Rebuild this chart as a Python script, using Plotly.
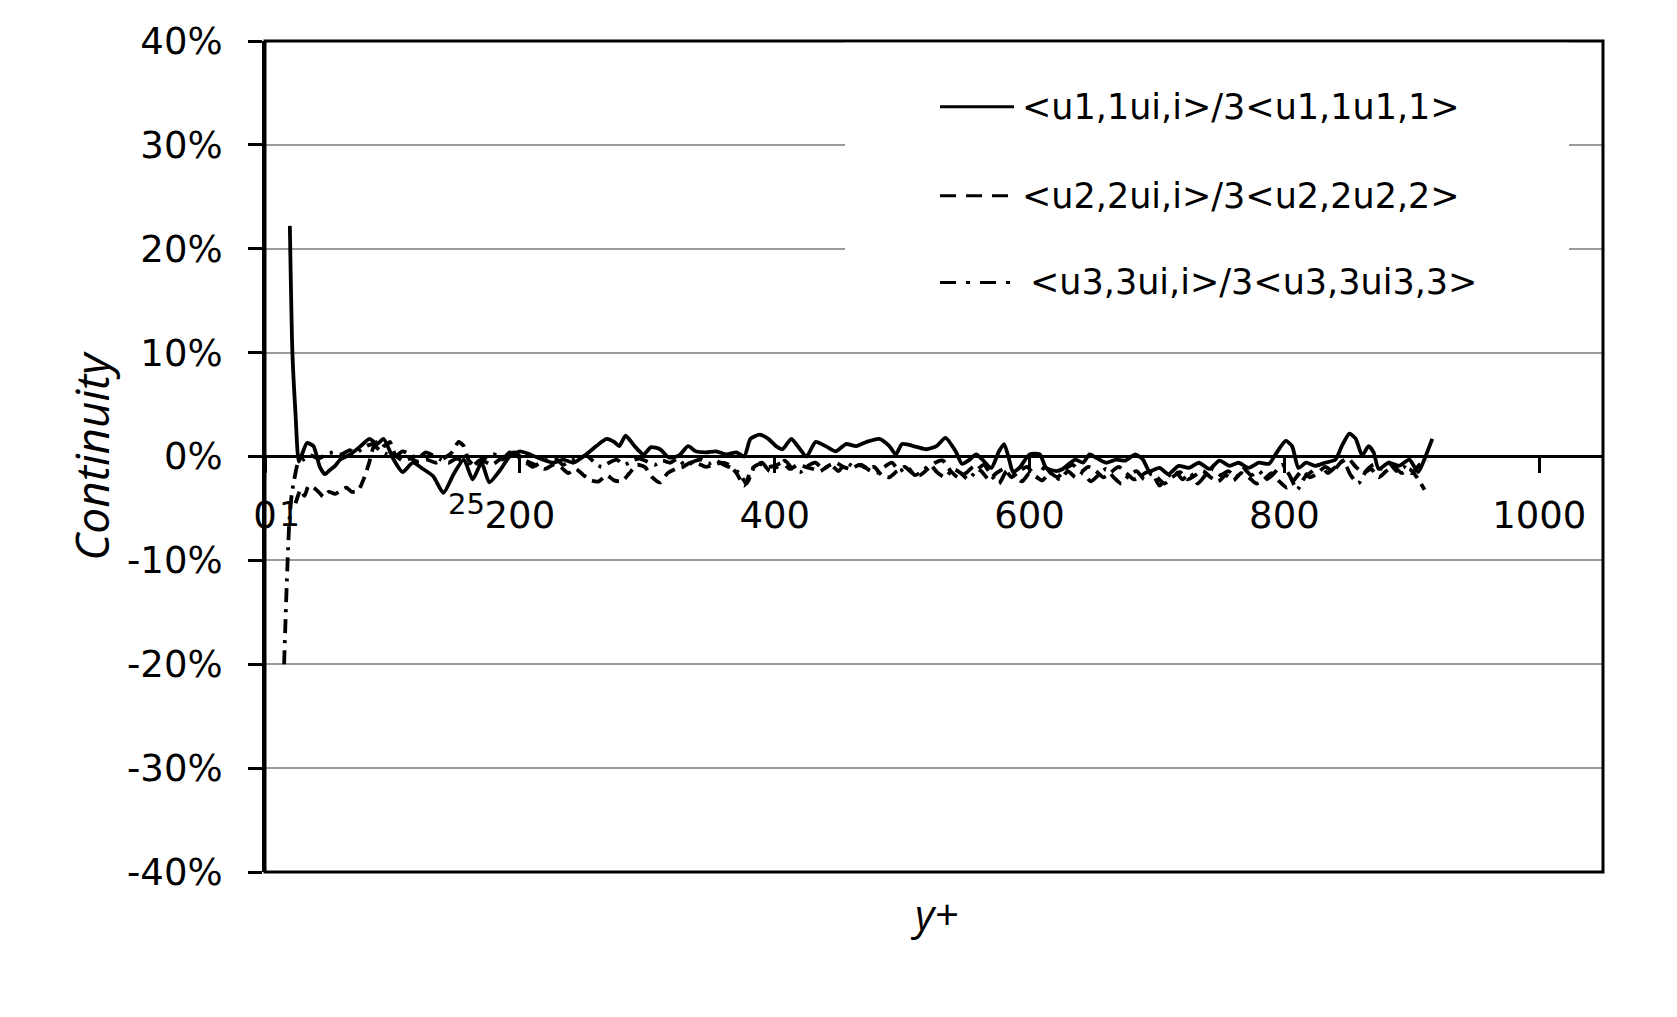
import plotly.graph_objects as go

# y+ positions and continuity values (in %)
x1 = [19.5, 21.5, 24, 26.5, 29, 33, 38, 43, 47, 51,
      55, 59, 67, 75, 82, 88, 93, 101, 108, 116,
      124, 132, 140, 148, 156, 163, 170, 176, 184, 192,
      200, 208, 218, 226, 234, 242, 252, 260, 268, 274,
      278, 283, 290, 297, 303, 310, 317, 325, 332, 338,
      346, 354, 362, 370, 376, 381, 388, 395, 401, 406,
      413, 418, 425, 432, 440, 448, 456, 464, 472, 482,
      490, 495, 500, 512, 519, 527, 534, 542, 547, 553,
      558, 563, 570, 576, 580, 584, 587, 592, 600, 608,
      613, 621, 626, 631, 636, 642, 647, 652, 660, 668,
      675, 683, 689, 694, 702, 709, 717, 725, 733, 741,
      749, 757, 764, 772, 780, 788, 793, 801, 806, 811,
      817, 824, 832, 840, 845, 851, 856, 861, 866, 870,
      874, 882, 890, 898, 905, 911, 916]
y1 = [22.2, 10.0, 4.0, -0.5, 0.2, 1.3, 1.0, -1.0, -1.7, -1.3,
      -0.9, -0.3, 0.2, 1.0, 1.7, 1.2, 1.7, -0.3, -1.5, -0.6,
      -1.2, -1.9, -3.5, -1.7, -0.3, -2.2, -0.6, -2.5, -1.4, 0.0,
      0.5, 0.2, -0.3, -0.6, -0.3, -0.6, 0.2, 1.0, 1.7, 1.4,
      1.0, 2.0, 1.0, 0.2, 0.9, 0.7, -0.1, 0.1, 1.0, 0.5,
      0.4, 0.5, 0.2, 0.4, 0.0, 1.7, 2.1, 1.7, 1.0, 0.7,
      1.7, 1.0, 0.0, 1.4, 1.0, 0.5, 1.2, 1.0, 1.4, 1.7,
      1.0, 0.2, 1.2, 0.9, 0.7, 1.0, 1.8, 0.5, -0.7, -0.3,
      0.2, -0.3, -1.1, 0.5, 1.2, -0.3, -1.5, -1.1, 0.2, 0.2,
      -1.1, -1.4, -1.2, -0.7, -0.3, -0.6, 0.2, -0.1, -0.6, -0.3,
      -0.4, 0.2, -0.3, -1.4, -1.1, -1.7, -0.9, -1.1, -0.6, -1.2,
      -0.4, -0.9, -0.6, -1.1, -0.6, -0.7, 0.2, 1.5, 1.0, -1.1,
      -0.6, -0.9, -0.6, -0.3, 1.0, 2.2, 1.7, 0.1, 1.0, 0.4,
      -1.2, -0.6, -0.9, -0.3, -1.5, 0.1, 1.7]

x2 = [24, 28, 31, 34, 38, 42, 46, 50, 55, 60,
      64, 68, 73, 78, 82, 86, 90, 94, 98, 102,
      108, 114, 120, 127, 134, 140, 146, 152, 156, 160,
      166, 172, 178, 184, 190, 196, 202, 208, 214, 220,
      226, 232, 238, 244, 250, 256, 262, 268, 274, 280,
      286, 292, 298, 304, 310, 316, 322, 328, 334, 340,
      346, 352, 358, 364, 370, 376, 382, 388, 394, 400,
      406, 412, 418, 424, 430, 436, 442, 448, 454, 460,
      466, 472, 478, 484, 490, 496, 502, 508, 514, 520,
      526, 532, 538, 544, 550, 556, 562, 568, 574, 580,
      586, 592, 598, 604, 610, 616, 622, 628, 634, 640,
      646, 652, 658, 664, 670, 676, 682, 688, 694, 700,
      706, 712, 718, 724, 730, 736, 742, 748, 754, 760,
      766, 772, 778, 784, 790, 796, 802, 808, 814, 820,
      826, 832, 838, 844, 850, 856, 862, 868, 874, 880,
      886, 892, 898, 904, 910]
y2 = [-4.5, -3.2, -3.8, -2.9, -3.0, -3.4, -3.9, -3.4, -3.6, -3.2,
      -3.0, -3.4, -3.3, -2.0, -0.5, 1.2, 1.5, 1.0, 1.4, 0.2,
      -0.4, -0.2, -0.5, -0.3, -0.6, -0.2, 0.3, 1.4, 1.0, -0.4,
      -1.0, -0.5, -0.8, -0.3, 0.2, 0.4, -0.2, -0.6, -0.9, -1.2,
      -0.8, -1.0, -1.6, -1.2, -1.8, -2.3, -2.4, -1.8, -2.3, -2.4,
      -1.6, -0.8, -1.0, -2.0, -2.5, -1.6, -1.2, -1.0, -0.6, -0.7,
      -1.0, -0.8, -0.6, -0.8, -1.6, -2.8, -1.2, -0.7, -1.0, -0.9,
      -0.6, -1.2, -0.8, -1.0, -1.2, -1.4, -0.9, -0.6, -1.0, -1.2,
      -0.8, -1.1, -1.0, -1.8, -2.0, -1.4, -1.0, -1.6, -1.8, -1.2,
      -0.6, -0.4, -1.4, -2.0, -1.6, -1.0, -1.4, -2.2, -1.6, -1.2,
      -2.0, -1.4, -1.0, -1.8, -2.3, -1.6, -2.0, -1.2, -0.8, -1.5,
      -1.0, -1.4, -2.0, -1.5, -1.0, -1.6, -2.2, -1.8, -1.4, -2.0,
      -2.6, -2.0, -1.5, -2.2, -1.8, -1.4, -2.0, -2.4, -1.8, -2.3,
      -1.6, -2.0, -2.6, -2.2, -1.6, -2.4, -3.0, -2.2, -1.4, -2.0,
      -1.6, -1.0, -1.4, -0.6, -0.2, -1.0, -1.6, -1.2, -2.0, -1.4,
      -1.0, -1.6, -1.2, -2.0, -3.2]

x3 = [15, 17, 19, 21, 23, 26, 30, 36, 42, 48,
      54, 60, 66, 72, 78, 84, 90, 96, 102, 108,
      114, 120, 126, 132, 138, 144, 150, 156, 162, 168,
      174, 180, 186, 192, 198, 204, 210, 216, 222, 228,
      234, 240, 246, 252, 258, 264, 270, 276, 282, 288,
      294, 300, 306, 312, 318, 324, 330, 336, 342, 348,
      354, 360, 366, 372, 378, 384, 390, 396, 402, 408,
      414, 420, 426, 432, 438, 444, 450, 456, 462, 468,
      474, 480, 486, 492, 498, 504, 510, 516, 522, 528,
      534, 540, 546, 552, 558, 564, 570, 576, 582, 588,
      594, 600, 606, 612, 618, 624, 630, 636, 642, 648,
      654, 660, 666, 672, 678, 684, 690, 696, 702, 708,
      714, 720, 726, 732, 738, 744, 750, 756, 762, 768,
      774, 780, 786, 792, 798, 804, 810, 816, 822, 828,
      834, 840, 846, 852, 858, 864, 870, 876, 882, 888,
      894, 900, 906, 912]
y3 = [-20.0, -12.5, -6.5, -3.6, -2.2, -0.6, -0.3, 0.1, -0.2, 0.2,
      0.4, 0.2, 0.6, 0.4, 0.9, 1.2, 0.6, 0.2, 0.0, 0.5,
      0.2, -0.2, 0.4, 0.1, -0.3, -0.6, -0.2, -0.5, -1.0, -0.4,
      -0.1, 0.2, -0.3, 0.4, 0.0, -0.5, -1.0, -0.6, -0.3, -0.2,
      -0.8, -0.4, -0.2, 0.1, -0.5, -1.0, -0.6, -0.3, -0.8, -0.4,
      -0.2, -0.5, -0.8, -0.4, -0.6, -0.2, -0.9, -0.5, -0.3, -0.7,
      -0.4, -0.8, -1.1, -1.6, -2.6, -1.0, -0.6, -1.4, -1.0, -0.4,
      -1.2, -1.5, -0.9, -0.6, -1.2, -0.8, -1.4, -0.6, -1.0, -0.8,
      -1.3, -1.6, -1.0, -0.6, -1.4, -1.0, -1.8, -1.4, -0.8, -1.6,
      -2.0, -1.2, -1.6, -2.2, -1.4, -0.8, -1.8, -2.6, -1.4, -1.8,
      -2.4, -1.6, -2.0, -1.0, -1.8, -2.2, -1.4, -2.0, -1.6, -2.4,
      -1.8, -1.2, -2.0, -2.6, -1.8, -1.4, -2.2, -1.6, -2.8, -2.0,
      -1.4, -2.2, -1.6, -2.6, -1.8, -1.2, -1.8, -1.4, -2.0, -1.2,
      -1.8, -1.4, -2.2, -1.6, -0.8, -1.8, -3.2, -2.0, -1.4, -0.8,
      -1.6, -1.0, -0.4, -1.8, -2.6, -1.4, -0.8, -1.2, -0.6, -1.4,
      -1.0, -1.6, -0.8, -0.4]

names = ['<u1,1ui,i>/3<u1,1u1,1>', '<u2,2ui,i>/3<u2,2u2,2>', '<u3,3ui,i>/3<u3,3ui3,3>']
dashes = ['solid', '12px,7px', '14px,7px,3px,7px']

x_ticks = [0, 200, 400, 600, 800, 1000]
x_ticktext = ['0', '200', '400', '600', '800', '1000']
y_ticks = [-40, -30, -20, -10, 0, 10, 20, 30, 40]
y_ticktext = ['-40%', '-30%', '-20%', '-10%', '0%', '10%', '20%', '30%', '40%']

FONT = 'DejaVu Sans'

fig = go.Figure()
for xs, ys, nm, ds in zip([x1, x2, x3], [y1, y2, y3], names, dashes):
    fig.add_trace(go.Scatter(x=xs, y=ys, mode='lines', name=nm,
                             line=dict(color='black', width=3.8, dash=ds,
                                       shape='spline', smoothing=0.6),
                             showlegend=False))

# the page body adds 8px around the figure, margins account for it
fig.update_layout(
    width=1677, height=1017,
    margin=dict(l=257, r=82, t=31, b=153),
    paper_bgcolor='white', plot_bgcolor='white',
    font=dict(family=FONT, size=37, color='black'),
    xaxis=dict(range=[0, 1050], anchor='free', position=0.5,
               tickvals=x_ticks, ticktext=x_ticktext,
               ticks='outside', ticklen=15, tickwidth=3, tickcolor='black',
               ticklabelstandoff=11,
               showgrid=False, zeroline=False, showline=False),
    yaxis=dict(range=[-40, 40], tickvals=y_ticks, ticktext=y_ticktext,
               ticks='outside', ticklen=14, tickwidth=3, tickcolor='black',
               ticklabelstandoff=18,
               showgrid=True, gridcolor='#9a9a9a', gridwidth=1.5,
               zeroline=True, zerolinecolor='black', zerolinewidth=3,
               showline=True, linecolor='black', linewidth=3),
)

# plot frame
fig.add_shape(type='rect', xref='paper', yref='paper', x0=0, x1=1, y0=0, y1=1,
              line=dict(color='black', width=3), layer='above')

# legend box (white, hides gridlines) with line samples
fig.add_shape(type='rect', xref='paper', yref='paper', x0=0.4335, x1=0.9746,
              y0=0.669, y1=0.998, fillcolor='white', line=dict(width=0), layer='above')
legend_rows = [0.9208, 0.8139, 0.7095]
legend_dash = ['solid', '16px,10px', '16px,10px,4px,10px']
legend_text_x = [0.5643, 0.5643, 0.5700]
for ry, ds, nm, tx in zip(legend_rows, legend_dash, names, legend_text_x):
    fig.add_shape(type='line', xref='paper', yref='paper', x0=0.5045, x1=0.5598,
                  y0=ry, y1=ry, line=dict(color='black', width=3, dash=ds), layer='above')
    fig.add_annotation(xref='paper', yref='paper', x=tx, y=ry,
                       text=nm.replace('<', '&lt;').replace('>', '&gt;'),
                       showarrow=False, xanchor='left', yanchor='middle',
                       font=dict(family=FONT, size=35, color='black'))

# stray tick labels as they appear on the original axis
fig.add_annotation(x=19.5, y=-5.6, text='1', showarrow=False,
                   font=dict(family=FONT, size=33, color='black'))
fig.add_annotation(x=158, y=-4.6, text='25', showarrow=False,
                   font=dict(family=FONT, size=29, color='black'))

# axis titles
fig.add_annotation(xref='paper', yref='paper', x=-0.130, y=0.501, text='<i>Continuity</i>',
                   textangle=-90, showarrow=False, xanchor='center', yanchor='middle',
                   font=dict(family='Open Sans', size=46, color='black'))
fig.add_annotation(xref='paper', yref='paper', x=0.5, y=-0.0504, text='<i>y+</i>',
                   showarrow=False, xanchor='center', yanchor='middle',
                   font=dict(family='Open Sans', size=42, color='black'))

fig.write_html("out.html")
